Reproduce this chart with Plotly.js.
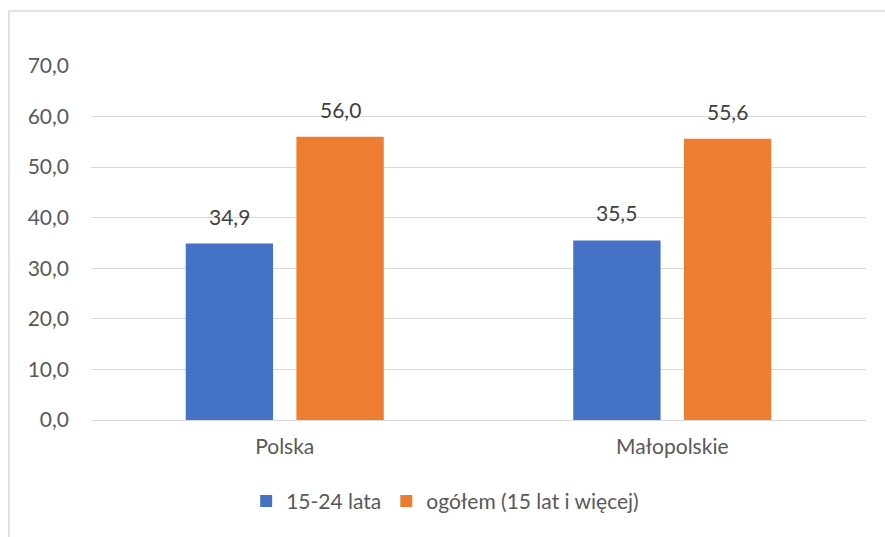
<!DOCTYPE html>
<html>
<head>
<meta charset="utf-8">
<script src="https://cdn.plot.ly/plotly-3.0.1.min.js"></script>
<style>html,body{margin:0;padding:0;background:#fff;}#chart{width:885px;height:537px;}</style>
</head>
<body>
<div id="chart"></div>
<script>
const categories = ["Polska", "Małopolskie"];
const seriesNames = ["15-24 lata", "ogółem (15 lat i więcej)"];
const youth = [34.9, 35.5];
const total = [56.0, 55.6];
const colors = ["#4472C4", "#ED7D31"];
const yTicks = [0, 10, 20, 30, 40, 50, 60, 70];

const FONT = "Lato, 'Open Sans', sans-serif";
const FS = 21;
const seriesValues = [youth, total];

const traces = seriesValues.map((vals, i) => ({
  type: "bar",
  name: seriesNames[i],
  x: categories,
  y: vals,
  marker: {color: colors[i]},
  hoverinfo: "none"
}));

const annotations = [];
seriesValues.forEach((vals, i) => {
  vals.forEach((v, j) => {
    annotations.push({
      x: categories[j], y: v, xref: "x", yref: "y",
      text: v.toFixed(1).replace(".", ","),
      showarrow: false, yanchor: "bottom",
      xshift: (i === 0 ? -55.5 : 55.5), yshift: 13,
      font: {family: FONT, size: FS, color: "#404040"}
    });
  });
});

const layout = {
  width: 885, height: 537,
  margin: {l: 91, r: 19, t: 66, b: 117},
  paper_bgcolor: "#fff", plot_bgcolor: "#fff",
  font: {family: FONT, size: FS, color: "#595959"},
  separators: ", ",
  barmode: "group",
  bargap: 0.4287,
  bargroupgap: 0.211,
  xaxis: {
    type: "category",
    showgrid: false, zeroline: false, showline: false,
    ticks: "", ticklabelstandoff: 12,
    tickfont: {family: FONT, size: FS, color: "#595959"}
  },
  yaxis: {
    range: [0, 70], tickvals: yTicks, tickformat: ".1f",
    showgrid: true, gridcolor: "#d9d9d9", gridwidth: 1,
    zeroline: true, zerolinecolor: "#d9d9d9", zerolinewidth: 1,
    showline: false, ticks: "", ticklabelstandoff: 21,
    tickfont: {family: FONT, size: FS, color: "#595959"}
  },
  showlegend: true,
  legend: {
    orientation: "h", x: 0.457, xanchor: "center", y: -0.23, yanchor: "middle",
    font: {family: FONT, size: FS, color: "#595959"},
    itemclick: false, itemdoubleclick: false
  },
  annotations: annotations,
  shapes: [{
    type: "rect", xref: "paper", yref: "paper",
    x0: -0.1058, x1: 1.04, y0: -0.36, y1: 1.1554,
    line: {color: "#d9d9d9", width: 1.5}, fillcolor: "rgba(0,0,0,0)", layer: "below"
  }]
};

Plotly.newPlot("chart", traces, layout, {staticPlot: true, displayModeBar: false});
</script>
</body>
</html>
